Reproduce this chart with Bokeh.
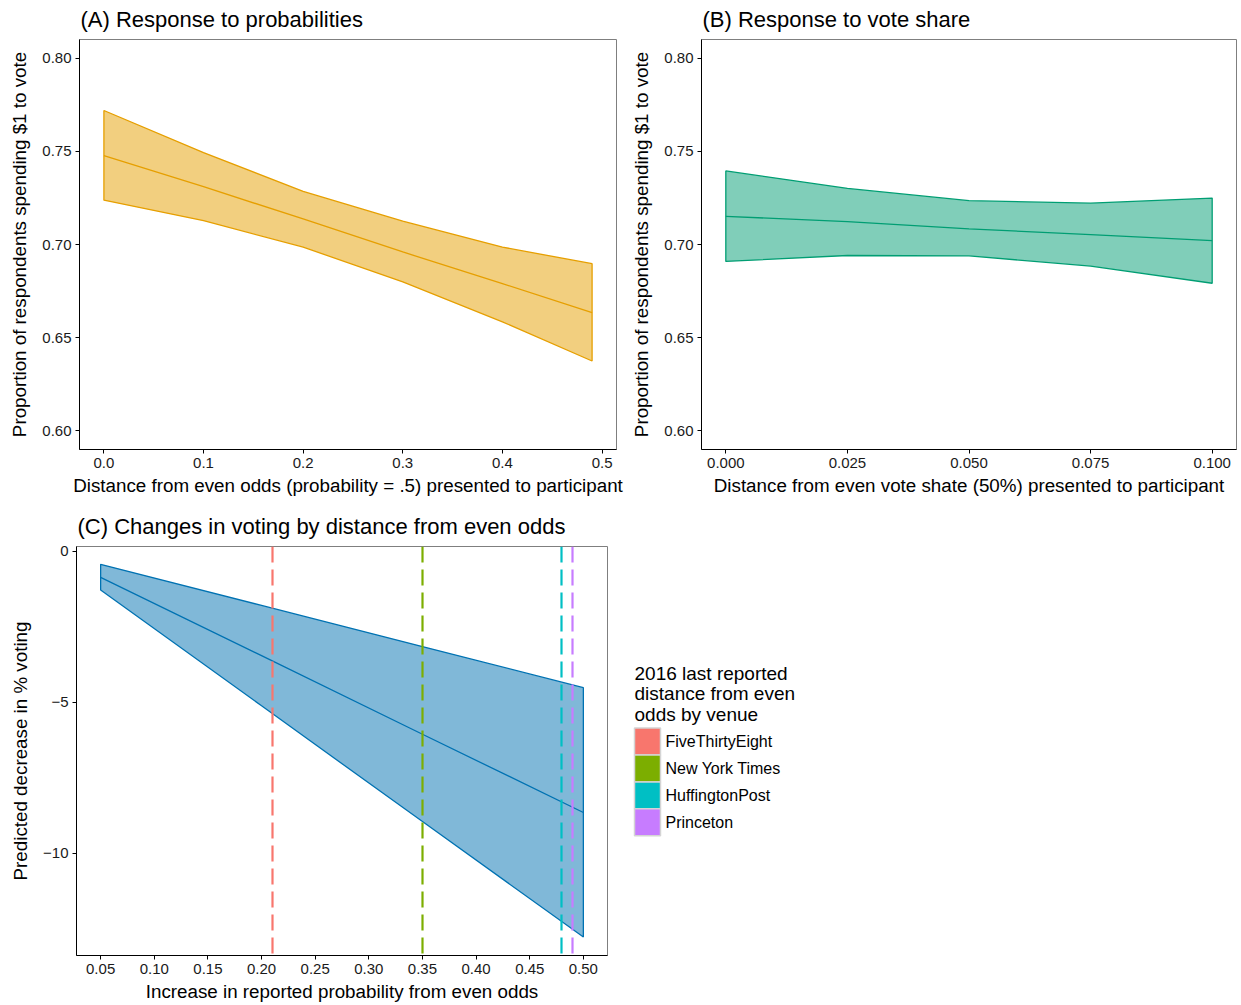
from bokeh.plotting import figure
from bokeh.layouts import row, column
from bokeh.models import Range1d, FixedTicker, NumeralTickFormatter, ColumnDataSource
from bokeh.core.properties import value
from bokeh.embed import file_html
from bokeh.resources import INLINE

FONT = "Liberation Sans"

# ---------------- data ----------------
# Panel A: response to probabilities
a_x = [0.0, 0.1, 0.2, 0.3, 0.4, 0.49]
a_upper = [0.7719, 0.7493, 0.7285, 0.7125, 0.6986, 0.6897]
a_mean = [0.7477, 0.7310, 0.7137, 0.6960, 0.6790, 0.6635]
a_lower = [0.7238, 0.7128, 0.6986, 0.6799, 0.6585, 0.6375]

# Panel B: response to vote share
b_x = [0.0, 0.025, 0.05, 0.075, 0.1]
b_upper = [0.7395, 0.7301, 0.7235, 0.7222, 0.7249]
b_mean = [0.7151, 0.7123, 0.7084, 0.7053, 0.7021]
b_lower = [0.6909, 0.6941, 0.6939, 0.6884, 0.6792]

# Panel C: predicted decrease in % voting
c_x = [0.05, 0.20, 0.35, 0.50]
c_upper = [-0.44, -1.80, -3.16, -4.52]
c_mean = [-0.87, -3.46, -6.06, -8.65]
c_lower = [-1.29, -5.12, -8.95, -12.77]

venue_names = ["FiveThirtyEight", "New York Times", "HuffingtonPost", "Princeton"]
venue_x = [0.21, 0.35, 0.48, 0.49]
venue_colors = ["#F8766D", "#7CAE00", "#00BFC4", "#C77CFF"]

legend_title = ["2016 last reported", "distance from even", "odds by venue"]

a_ticks = [0.0, 0.1, 0.2, 0.3, 0.4, 0.5]
b_ticks = [0.0, 0.025, 0.05, 0.075, 0.1]
c_xticks = [0.05, 0.10, 0.15, 0.20, 0.25, 0.30, 0.35, 0.40, 0.45, 0.50]
c_yticks = [0, -5, -10]
p_yticks = [0.60, 0.65, 0.70, 0.75, 0.80]

TITLE_SIZE = "22px"
AXIS_SIZE = "18.8px"
TICK_SIZE = "15px"


def style(p, xlabel, ylabel, title):
    p.xgrid.visible = False
    p.ygrid.visible = False
    p.outline_line_color = "#7f7f7f"
    p.outline_line_width = 1
    p.background_fill_color = "white"
    p.border_fill_color = "white"
    p.title.text = title
    p.title.text_font = FONT
    p.title.text_font_size = TITLE_SIZE
    p.title.text_font_style = "normal"
    p.title.text_color = "black"
    p.title.offset = 1
    p.title.standoff = 12
    p.title.vertical_align = "top"
    p.xaxis.axis_label = xlabel
    p.yaxis.axis_label = ylabel
    for ax in (p.xaxis[0], p.yaxis[0]):
        ax.axis_label_text_font = FONT
        ax.axis_label_text_font_size = AXIS_SIZE
        ax.axis_label_text_font_style = "normal"
        ax.axis_label_text_color = "black"
        ax.major_label_text_font = FONT
        ax.major_label_text_font_size = TICK_SIZE
        ax.major_label_text_color = "#1a1a1a"
        ax.major_label_standoff = 4
        ax.axis_line_color = "black"
        ax.axis_line_width = 1
        ax.major_tick_line_color = "black"
        ax.major_tick_out = 4
        ax.major_tick_in = 0
        ax.minor_tick_line_color = None
    p.xaxis[0].axis_label_standoff = 4
    p.yaxis[0].axis_label_standoff = 9


def ribbon(p, x, lo, hi, mid, line, fill):
    px = list(x) + list(x)[::-1]
    py = list(hi) + list(lo)[::-1]
    p.patch(px, py, fill_color=fill, line_color=line, line_width=1.3)
    p.line(x, mid, line_color=line, line_width=1.3)


# ---------------- Panel A ----------------
pa = figure(width=625, height=501, output_backend="svg", toolbar_location=None,
            x_range=Range1d(-0.0245, 0.5145), y_range=Range1d(0.59, 0.81),
            min_border_left=79, min_border_right=9, min_border_top=39, min_border_bottom=52)
ribbon(pa, a_x, a_lower, a_upper, a_mean, "#E69F00", "#F2CF7F")
style(pa, "Distance from even odds (probability = .5) presented to participant",
      "Proportion of respondents spending $1 to vote", "(A) Response to probabilities")
pa.xaxis.ticker = FixedTicker(ticks=a_ticks)
pa.xaxis.formatter = NumeralTickFormatter(format="0.0")
pa.yaxis.ticker = FixedTicker(ticks=p_yticks)
pa.yaxis.formatter = NumeralTickFormatter(format="0.00")

# ---------------- Panel B ----------------
pb = figure(width=615, height=501, output_backend="svg", toolbar_location=None,
            x_range=Range1d(-0.005, 0.105), y_range=Range1d(0.59, 0.81),
            min_border_left=76, min_border_right=4, min_border_top=39, min_border_bottom=52)
ribbon(pb, b_x, b_lower, b_upper, b_mean, "#009E73", "#80CEB9")
style(pb, "Distance from even vote shate (50%) presented to participant",
      "Proportion of respondents spending $1 to vote", "(B) Response to vote share")
pb.xaxis.ticker = FixedTicker(ticks=b_ticks)
pb.xaxis.formatter = NumeralTickFormatter(format="0.000")
pb.yaxis.ticker = FixedTicker(ticks=p_yticks)
pb.yaxis.formatter = NumeralTickFormatter(format="0.00")

# ---------------- Panel C ----------------
pc = figure(width=620, height=503, output_backend="svg", toolbar_location=None,
            x_range=Range1d(0.0275, 0.5225), y_range=Range1d(-13.38, 0.15),
            min_border_left=76, min_border_right=13, min_border_top=45, min_border_bottom=48)
ribbon(pc, c_x, c_lower, c_upper, c_mean, "#0072B2", "#80B8D8")
vsrc = ColumnDataSource(dict(x=venue_x, color=venue_colors, name=venue_names))
pc.vspan(x="x", source=vsrc, line_color="color", line_width=2.2, line_dash="16 7")
style(pc, "Increase in reported probability from even odds",
      "Predicted decrease in % voting", "(C) Changes in voting by distance from even odds")
pc.xaxis.ticker = FixedTicker(ticks=c_xticks)
pc.xaxis.formatter = NumeralTickFormatter(format="0.00")
pc.yaxis.ticker = FixedTicker(ticks=c_yticks)
pc.yaxis.major_label_overrides = {0: "0", -5: "\u22125", -10: "\u221210"}

# ---------------- Legend panel (page pixel coordinates; frame aligned with panel C) ----------------
pl = figure(width=200, height=503, output_backend="svg", toolbar_location=None,
            x_range=Range1d(620, 820), y_range=Range1d(956, 546),
            min_border=0, outline_line_color=None)
pl.axis.visible = False
pl.grid.visible = False
title_y = [673 + 20.5 * i for i in range(len(legend_title))]
pl.text(x=[634] * len(legend_title), y=title_y, text=legend_title,
        text_font=value(FONT), text_font_size="19px", text_color="black",
        text_baseline="middle", text_align="left")
key_y = [741.5 + 27 * i for i in range(len(venue_names))]
pl.rect(x=[647] * len(venue_names), y=key_y, width=26, height=27,
        fill_color=venue_colors, line_color="#d4d4d4", line_width=1.5)
pl.text(x=[665] * len(venue_names), y=key_y, text=venue_names,
        text_font=value(FONT), text_font_size="16px", text_color="black",
        text_baseline="middle", text_align="left")

layout = column(row(pa, pb), row(pc, pl))
open("out.html", "w").write(file_html(layout, INLINE))
